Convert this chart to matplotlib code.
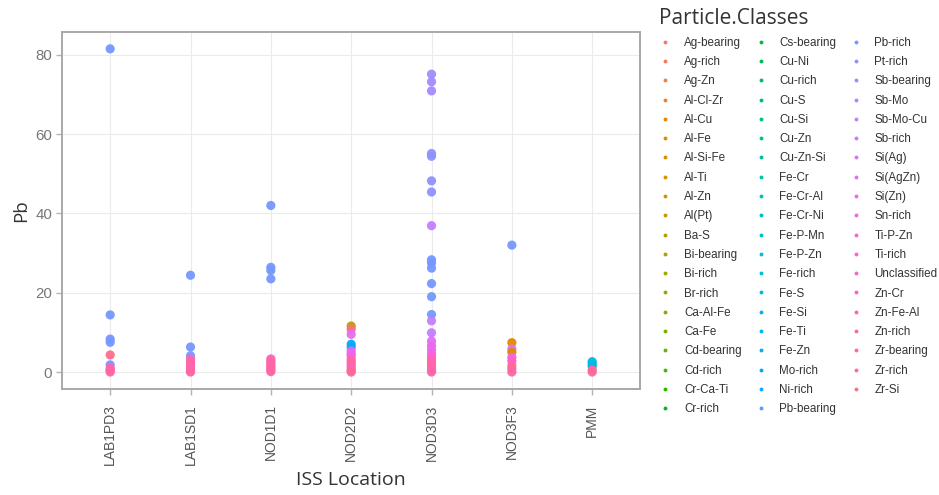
import math
import matplotlib
matplotlib.use("Agg")
import matplotlib.pyplot as plt
from matplotlib.lines import Line2D

# ---------------- data ----------------
classes = ["Ag-bearing", "Ag-rich", "Ag-Zn", "Al-Cl-Zr", "Al-Cu", "Al-Fe", "Al-Si-Fe",
           "Al-Ti", "Al-Zn", "Al(Pt)", "Ba-S", "Bi-bearing", "Bi-rich", "Br-rich",
           "Ca-Al-Fe", "Ca-Fe", "Cd-bearing", "Cd-rich", "Cr-Ca-Ti", "Cr-rich",
           "Cs-bearing", "Cu-Ni", "Cu-rich", "Cu-S", "Cu-Si", "Cu-Zn", "Cu-Zn-Si",
           "Fe-Cr", "Fe-Cr-Al", "Fe-Cr-Ni", "Fe-P-Mn", "Fe-P-Zn", "Fe-rich", "Fe-S",
           "Fe-Si", "Fe-Ti", "Fe-Zn", "Mo-rich", "Ni-rich", "Pb-bearing",
           "Pb-rich", "Pt-rich", "Sb-bearing", "Sb-Mo", "Sb-Mo-Cu", "Sb-rich", "Si(Ag)",
           "Si(AgZn)", "Si(Zn)", "Sn-rich", "Ti-P-Zn", "Ti-rich", "Unclassified", "Zn-Cr",
           "Zn-Fe-Al", "Zn-rich", "Zr-bearing", "Zr-rich", "Zr-Si"]

locations = ["LAB1PD3", "LAB1SD1", "NOD1D1", "NOD2D2", "NOD3D3", "NOD3F3", "PMM"]

lab1pd3_pb = [81.5, 14.4, 8.3, 7.5, 4.3, 1.8, 1.0, 0.6, 0.3, 0.0]
lab1pd3_cls = ["Pb-rich", "Pb-rich", "Pb-rich", "Pb-rich", "Zr-rich",
               "Pb-rich", "Unclassified", "Zn-rich", "Zr-bearing", "Zn-rich"]

lab1sd1_pb = [24.4, 6.3, 4.1, 3.3, 2.7, 2.2, 1.6, 1.1, 0.6, 0.2, 0.0]
lab1sd1_cls = ["Pb-rich", "Pb-rich", "Pb-rich", "Unclassified", "Zn-rich",
               "Zn-rich", "Zr-bearing", "Unclassified", "Zn-rich", "Zr-bearing", "Zn-rich"]

nod1d1_pb = [42.0, 26.4, 25.6, 23.5, 3.3, 2.8, 2.3, 1.9, 1.4, 0.9, 0.5, 0.1]
nod1d1_cls = ["Pb-rich", "Pb-rich", "Pb-rich", "Pb-rich", "Unclassified",
              "Zn-rich", "Zn-rich", "Zr-bearing", "Unclassified", "Zn-rich",
              "Zr-bearing", "Zn-rich"]

nod2d2_pb = [11.6, 10.8, 9.5, 7.0, 6.2, 5.3, 4.6, 4.1, 3.2, 2.5, 1.9, 1.3, 0.7, 0.3, 0.0]
nod2d2_cls = ["Al(Pt)", "Zr-Si", "Si(AgZn)", "Mo-rich", "Fe-Zn", "Sn-rich", "Si(Ag)",
              "Sn-rich", "Unclassified", "Zn-rich", "Zr-bearing", "Zn-rich",
              "Unclassified", "Zn-rich", "Zr-bearing"]

nod3d3_pb = [75.1, 73.2, 70.9, 55.1, 54.4, 48.2, 45.4, 36.9, 28.3, 27.5, 26.2, 22.3,
             19.0, 14.5, 12.9, 9.9, 7.8, 6.6, 5.6, 4.6, 3.8, 3.0, 2.3, 1.6, 1.0,
             0.5, 0.0]
nod3d3_cls = ["Sb-bearing", "Sb-bearing", "Sb-bearing", "Pt-rich", "Pt-rich", "Pt-rich",
              "Pt-rich", "Sb-Mo-Cu", "Pb-rich", "Pb-rich", "Pb-rich", "Pb-rich",
              "Pb-rich", "Pb-rich", "Sb-Mo-Cu", "Sb-Mo-Cu", "Si(Ag)", "Sn-rich",
              "Si(AgZn)", "Sn-rich", "Ti-rich", "Unclassified", "Zn-rich",
              "Zr-bearing", "Zn-rich", "Unclassified", "Zn-rich"]

nod3f3_pb = [32.0, 7.4, 5.8, 5.0, 3.7, 2.8, 1.6, 0.8, 0.0]
nod3f3_cls = ["Pb-rich", "Al-Cu", "Si(Ag)", "Al-Fe", "Sn-rich", "Unclassified",
              "Zn-rich", "Zr-bearing", "Zn-rich"]

pmm_pb = [2.6, 2.0, 1.4, 0.5, 0.0]
pmm_cls = ["Fe-S", "Fe-rich", "Fe-S", "Zn-rich", "Zr-bearing"]

location_values = [lab1pd3_pb, lab1sd1_pb, nod1d1_pb, nod2d2_pb, nod3d3_pb, nod3f3_pb, pmm_pb]
location_classes = [lab1pd3_cls, lab1sd1_cls, nod1d1_cls, nod2d2_cls, nod3d3_cls, nod3f3_cls, pmm_cls]


# ---------------- ggplot-like hue palette ----------------
def hcl_hex(h, c=100.0, l=65.0):
    Xn, Yn, Zn = 95.047, 100.0, 108.883
    Y = Yn * ((l + 16) / 116) ** 3
    u = c * math.cos(math.radians(h))
    v = c * math.sin(math.radians(h))
    den = Xn + 15 * Yn + 3 * Zn
    un, vn = 4 * Xn / den, 9 * Yn / den
    up = u / (13 * l) + un
    vp = v / (13 * l) + vn
    X = 9.0 * Y * up / (4 * vp)
    Z = -X / 3 - 5 * Y + 3 * Y / vp
    X, Y, Z = X / 100, Y / 100, Z / 100
    r = 3.2404542 * X - 1.5371385 * Y - 0.4985314 * Z
    g = -0.9692660 * X + 1.8760108 * Y + 0.0415560 * Z
    b = 0.0556434 * X - 0.2040259 * Y + 1.0572252 * Z

    def gam(t):
        t = 12.92 * t if t <= 0.0031308 else 1.055 * t ** (1 / 2.4) - 0.055
        return min(1.0, max(0.0, t))
    return (gam(r), gam(g), gam(b))


n = len(classes)
palette = {cl: hcl_hex(15 + 360.0 * i / n) for i, cl in enumerate(classes)}

# ---------------- figure ----------------
fig = plt.figure(figsize=(9.39, 4.95), dpi=100)
fig.subplots_adjust(left=0.066, right=0.682, top=0.935, bottom=0.214)
ax = fig.add_subplot(111)

for i, (vals, cls) in enumerate(zip(location_values, location_classes)):
    ax.scatter([i] * len(vals), vals, s=44, c=[palette[c] for c in cls],
               linewidths=0, zorder=3, alpha=0.95)

ax.set_xlim(-0.6, len(locations) - 1 + 0.6)
ax.set_ylim(-4.3, 85.7)
ax.set_xticks(range(len(locations)))
ax.set_xticklabels(locations, rotation=90, fontsize=10, color="#555555",
                   family="Liberation Sans")
ax.set_yticks([0, 20, 40, 60, 80])
ax.set_yticklabels(["0", "20", "40", "60", "80"], fontsize=10.8, color="#777777",
                   family="Liberation Sans")
ax.tick_params(axis="both", length=4, width=1, color="#B3B3B3", pad=3)
ax.tick_params(axis="x", pad=7)
ax.grid(True, color="#EBEBEB", linewidth=0.8, zorder=0)
ax.set_axisbelow(True)
for sp in ax.spines.values():
    sp.set_color("#A8A8A8")
    sp.set_linewidth(1.4)

ax.set_xlabel("ISS Location", fontsize=14, color="#333333", family="Open Sans",
              labelpad=4)
ax.set_ylabel("Pb", fontsize=13.5, color="#333333", family="Open Sans", labelpad=4)

handles = [Line2D([], [], marker="o", linestyle="none", markersize=2.8,
                  markerfacecolor=palette[c], markeredgewidth=0) for c in classes]
leg = fig.legend(handles, classes, ncol=3, loc="upper left",
                 bbox_to_anchor=(0.6985, 0.99), frameon=False,
                 prop={"family": "Liberation Sans", "size": 8.4},
                 title="Particle.Classes", title_fontsize=15,
                 labelspacing=0.625, columnspacing=1.15, handletextpad=1.1,
                 handlelength=1.0, borderaxespad=0, borderpad=0.3)
leg._legend_box.align = "left"
leg.get_title().set_family("Open Sans")
leg.get_title().set_color("#333333")
for t in leg.get_texts():
    t.set_color("#333333")

fig.savefig("out.png", dpi=100)
